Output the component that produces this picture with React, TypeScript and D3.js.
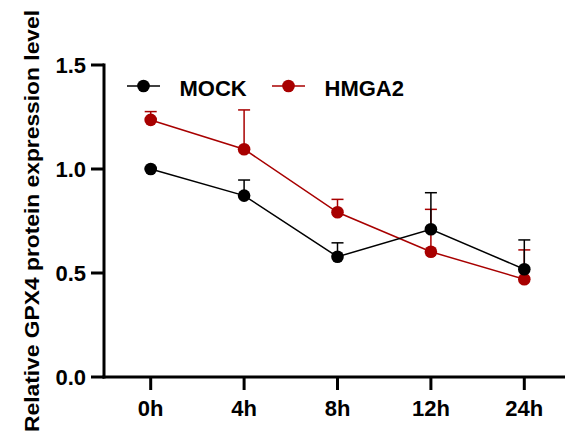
import React from "react";
import * as d3 from "d3";

const categories = ["0h", "4h", "8h", "12h", "24h"];
const mockValues = [1.0, 0.872, 0.578, 0.71, 0.518];
const mockErrTop = [1.0, 0.947, 0.645, 0.886, 0.659];
const hmgaValues = [1.236, 1.095, 0.792, 0.602, 0.47];
const hmgaErrTop = [1.276, 1.284, 0.854, 0.806, 0.611];
const yTicks = [0.0, 0.5, 1.0, 1.5];

const W = 565;
const H = 437;
const FONT = "Arial, 'Liberation Sans', Helvetica, sans-serif";

export default function App() {
  const x = d3.scalePoint<string>().domain(categories).range([150.7, 524.3]);
  const y = d3.scaleLinear().domain([0, 1.5]).range([377, 65]);
  const line = d3
    .line<number>()
    .x((_, i) => x(categories[i]) as number)
    .y((d) => y(d));

  const series = [
    { name: "HMGA2", color: "#A80000", vals: hmgaValues, err: hmgaErrTop },
    { name: "MOCK", color: "#000000", vals: mockValues, err: mockErrTop },
  ];

  const legend = [
    { name: "MOCK", color: "#000000", x0: 127 },
    { name: "HMGA2", color: "#A80000", x0: 272 },
  ];

  return (
    <svg
      width={W}
      height={H}
      style={{ position: "absolute", left: 0, top: 0 }}
      fontFamily={FONT}
    >
      {/* Y axis */}
      <line x1={104} x2={104} y1={63.5} y2={378.5} stroke="#000" strokeWidth={3} />
      {yTicks.map((t) => (
        <g key={t}>
          <line x1={91} x2={104} y1={y(t)} y2={y(t)} stroke="#000" strokeWidth={3} />
          <text
            x={86}
            y={y(t) + 8}
            textAnchor="end"
            fontSize={22}
            fontWeight="bold"
          >
            {t.toFixed(1)}
          </text>
        </g>
      ))}
      {/* X axis */}
      <line x1={102.5} x2={565} y1={377} y2={377} stroke="#000" strokeWidth={3} />
      {categories.map((c) => (
        <g key={c}>
          <line
            x1={x(c)}
            x2={x(c)}
            y1={377}
            y2={390}
            stroke="#000"
            strokeWidth={3}
          />
          <text
            x={x(c)}
            y={416}
            textAnchor="middle"
            fontSize={22}
            fontWeight="bold"
          >
            {c}
          </text>
        </g>
      ))}
      {/* Y label */}
      <text
        transform={`translate(38.5,221) rotate(-90)`}
        textAnchor="middle"
        fontSize={20.5}
        fontWeight="bold"
        textLength={422}
        lengthAdjust="spacingAndGlyphs"
      >
        Relative GPX4 protein expression level
      </text>

      {/* Series */}
      {series.map((s) => (
        <g key={s.name}>
          {s.vals.map((v, i) => {
            const cx = x(categories[i]) as number;
            return (
              <g key={i}>
                <line
                  x1={cx}
                  x2={cx}
                  y1={y(v)}
                  y2={y(s.err[i])}
                  stroke={s.color}
                  strokeWidth={1.5}
                />
                <line
                  x1={cx - 6}
                  x2={cx + 6}
                  y1={y(s.err[i])}
                  y2={y(s.err[i])}
                  stroke={s.color}
                  strokeWidth={1.5}
                />
              </g>
            );
          })}
          <path d={line(s.vals) || ""} fill="none" stroke={s.color} strokeWidth={1.5} />
          {s.vals.map((v, i) => (
            <circle
              key={i}
              cx={x(categories[i]) as number}
              cy={y(v)}
              r={6.3}
              fill={s.color}
            />
          ))}
        </g>
      ))}

      {/* Legend */}
      {legend.map((l) => (
        <g key={l.name}>
          <line
            x1={l.x0}
            x2={l.x0 + 33}
            y1={86}
            y2={86}
            stroke={l.color}
            strokeWidth={1.5}
          />
          <circle cx={l.x0 + 16.5} cy={86} r={6.3} fill={l.color} />
          <text
            x={l.x0 + 52.5}
            y={95.5}
            fontSize={22}
            fontWeight="bold"
          >
            {l.name}
          </text>
        </g>
      ))}
    </svg>
  );
}
